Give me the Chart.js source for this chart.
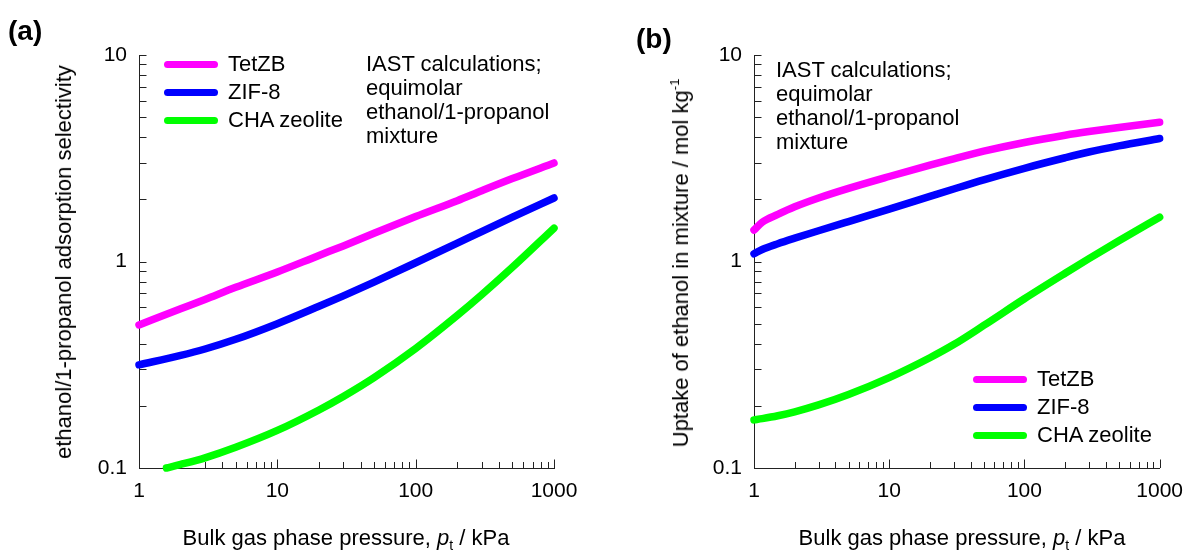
<!DOCTYPE html>
<html>
<head>
<meta charset="utf-8">
<script src="https://cdn.jsdelivr.net/npm/chart.js"></script>
<style>
  body { margin: 0; background: #fff; font-family: "Liberation Sans", Arial, sans-serif; color: #000; }
  #wrap { position: relative; width: 1194px; height: 552px; overflow: hidden; }
  canvas { position: absolute; top: 0; }
  .t { position: absolute; white-space: nowrap; font-size: 22px; line-height: 26px; }
  .note { position: absolute; white-space: nowrap; font-size: 22px; line-height: 24px; }
  .panel { position: absolute; font-weight: bold; font-size: 28px; line-height: 32px; }
  .rot { transform: translate(-50%, -50%) rotate(-90deg); }
  .sw { position: absolute; width: 54px; height: 7px; border-radius: 3.5px; }
  sub { font-size: 14px; vertical-align: -5px; line-height: 0; }
  sup { font-size: 13px; vertical-align: 9px; line-height: 0; }
</style>
</head>
<body>
<div id="wrap">
  <canvas id="chartA" width="597" height="552" style="left:0"></canvas>
  <canvas id="chartB" width="597" height="552" style="left:597px"></canvas>

  <div class="panel" style="left:8px; top:15px;">(a)</div>
  <div class="panel" style="left:636px; top:23px;">(b)</div>

  <div class="t rot" style="left:64px; top:262px;">ethanol/1-propanol adsorption selectivity</div>
  <div class="t rot" style="left:681px; top:263px;">Uptake of ethanol in mixture / mol kg<sup>-1</sup></div>

  <div class="t" style="left:346px; top:525px; transform:translateX(-50%);">Bulk gas phase pressure, <i>p</i><sub>t</sub> / kPa</div>
  <div class="t" style="left:962px; top:525px; transform:translateX(-50%);">Bulk gas phase pressure, <i>p</i><sub>t</sub> / kPa</div>

  <div class="note" style="left:366px; top:52px;">IAST calculations;<br>equimolar<br>ethanol/1-propanol<br>mixture</div>
  <div class="note" style="left:776px; top:58px;">IAST calculations;<br>equimolar<br>ethanol/1-propanol<br>mixture</div>
</div>

<script>
// series names and colours
const seriesNames = ['TetZB', 'ZIF-8', 'CHA zeolite'];
const seriesColors = ['#ff00ff', '#0000ff', '#00ff00'];

// tick labels
const xMajor = [1, 10, 100, 1000];
const xTickLabels = ['1', '10', '100', '1000'];
const yMajor = [0.1, 1, 10];
const yTickLabels = ['0.1', '1', '10'];

// (a) selectivity
const pressureA = [1, 2, 3, 5, 10, 20, 30, 50, 100, 200, 300, 500, 1000];
const tetzbA = [0.493, 0.59, 0.655, 0.75, 0.89, 1.07, 1.19, 1.37, 1.65, 1.97, 2.2, 2.52, 3.0];
const zif8A = [0.316, 0.351, 0.377, 0.42, 0.50, 0.607, 0.682, 0.795, 0.986, 1.226, 1.396, 1.64, 2.03];
const pressureChaA = [1.58, 2, 3, 5, 10, 20, 30, 50, 100, 200, 300, 500, 1000];
const chaA = [0.1, 0.104, 0.112, 0.126, 0.152, 0.191, 0.222, 0.274, 0.379, 0.548, 0.69, 0.937, 1.45];

// (b) uptake of ethanol
const pressureB = [1, 1.15, 1.5, 2, 3, 5, 10, 20, 30, 50, 100, 200, 300, 500, 1000];
const tetzbB = [1.42, 1.55, 1.69, 1.84, 2.03, 2.26, 2.58, 2.93, 3.14, 3.42, 3.77, 4.09, 4.26, 4.46, 4.72];
const zif8B = [1.09, 1.143, 1.219, 1.297, 1.409, 1.561, 1.792, 2.066, 2.245, 2.487, 2.828, 3.18, 3.39, 3.63, 3.94];
const chaB = [0.171, 0.1734, 0.179, 0.187, 0.202, 0.227, 0.274, 0.342, 0.396, 0.49, 0.66, 0.877, 1.032, 1.26, 1.64];

const FONT = '"Liberation Sans", Arial, sans-serif';
const AXIS = '#222';

const pts = (xs, ys) => xs.map((x, i) => ({ x: x, y: ys[i] }));

const logTicks = (from, to) => {
  const out = [];
  for (let d = from; d < to; d *= 10) {
    for (let m = 1; m < 10; m++) out.push({ value: +(d * m).toPrecision(6) });
  }
  out.push({ value: to });
  return out;
};

// ticks drawn inside the plot, like the original
const inwardTicks = {
  id: 'inwardTicks',
  beforeDatasetsDraw(chart) {
    const { ctx, chartArea } = chart;
    const xs = chart.scales.x, ys = chart.scales.y;
    ctx.save();
    ctx.strokeStyle = AXIS;
    ctx.lineWidth = 1;
    xs.ticks.forEach(t => {
      const px = Math.round(xs.getPixelForValue(t.value)) + 0.5;
      const len = xMajor.includes(t.value) ? 8.5 : 6;
      ctx.beginPath();
      ctx.moveTo(px, chartArea.bottom);
      ctx.lineTo(px, chartArea.bottom - len);
      ctx.stroke();
    });
    ys.ticks.forEach(t => {
      const py = Math.round(ys.getPixelForValue(t.value)) + 0.5;
      ctx.beginPath();
      ctx.moveTo(chartArea.left, py);
      ctx.lineTo(chartArea.left + 7.5, py);
      ctx.stroke();
    });
    ctx.restore();
  }
};

function makeChart(id, datasets, yWidth, rightPad) {
  return new Chart(document.getElementById(id), {
    type: 'line',
    data: {
      datasets: datasets.map((d, i) => ({
        label: seriesNames[i],
        data: d,
        borderColor: seriesColors[i],
        backgroundColor: seriesColors[i],
        borderWidth: 7.5,
        borderCapStyle: 'round',
        borderJoinStyle: 'round',
        pointRadius: 0,
        cubicInterpolationMode: 'monotone',
        clip: false
      }))
    },
    options: {
      responsive: false,
      animation: false,
      layout: { padding: { left: 0, top: 55, right: rightPad, bottom: 0 } },
      plugins: { legend: { display: false }, tooltip: { enabled: false } },
      scales: {
        x: {
          type: 'logarithmic', min: 1, max: 1000,
          afterBuildTicks: s => { s.ticks = logTicks(1, 1000); },
          afterFit: s => { s.height = 84; },
          grid: { drawOnChartArea: false, drawTicks: false },
          border: { display: true, color: AXIS, width: 1 },
          ticks: {
            autoSkip: false, maxRotation: 0, padding: 11, color: '#000',
            font: { family: FONT, size: 21 },
            callback: v => { const i = xMajor.indexOf(v); return i < 0 ? '' : xTickLabels[i]; }
          }
        },
        y: {
          type: 'logarithmic', min: 0.1, max: 10,
          afterBuildTicks: s => { s.ticks = logTicks(0.1, 10); },
          afterFit: s => { s.width = yWidth; },
          grid: { drawOnChartArea: false, drawTicks: false },
          border: { display: true, color: AXIS, width: 1 },
          ticks: {
            autoSkip: false, padding: 12, color: '#000',
            font: { family: FONT, size: 21 },
            callback: v => { const i = yMajor.indexOf(v); return i < 0 ? '' : yTickLabels[i]; }
          }
        }
      }
    },
    plugins: [inwardTicks]
  });
}

makeChart('chartA', [pts(pressureA, tetzbA), pts(pressureA, zif8A), pts(pressureChaA, chaA)], 139, 43);
makeChart('chartB', [pts(pressureB, tetzbB), pts(pressureB, zif8B), pts(pressureB, chaB)], 157, 25);

// legends
function legend(lineLeft, textLeft, rows) {
  const wrap = document.getElementById('wrap');
  seriesNames.forEach((name, i) => {
    const sw = document.createElement('div');
    sw.className = 'sw';
    sw.style.left = lineLeft + 'px';
    sw.style.top = (rows[i] - 3.5) + 'px';
    sw.style.background = seriesColors[i];
    wrap.appendChild(sw);
    const tx = document.createElement('div');
    tx.className = 't';
    tx.style.left = textLeft + 'px';
    tx.style.top = (rows[i] - 13) + 'px';
    tx.textContent = name;
    wrap.appendChild(tx);
  });
}
legend(164, 228, [64, 92, 120]);
legend(973, 1037, [379, 407, 435]);
</script>
</body>
</html>
